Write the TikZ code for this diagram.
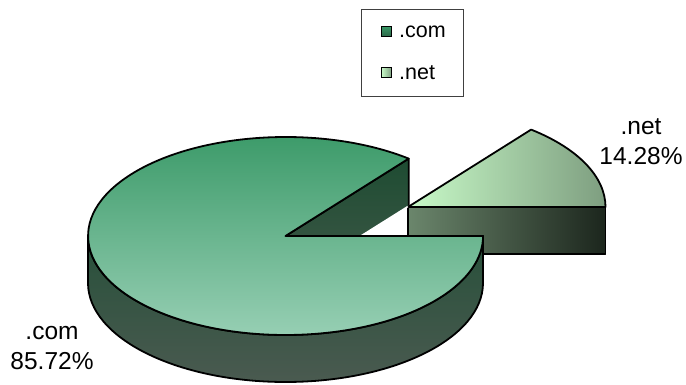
\documentclass[tikz,border=0pt]{standalone}
\usepackage{fontspec}
\setmainfont{Liberation Sans}
\usetikzlibrary{calc}

\definecolor{comtop}{HTML}{389866}
\definecolor{combot}{HTML}{9CD2B8}
\definecolor{comsidetop}{HTML}{27503A}
\definecolor{comsidebot}{HTML}{4A5A50}
\definecolor{comcuttop}{HTML}{1E4C32}
\definecolor{comcutbot}{HTML}{3F5848}
\definecolor{netleft}{HTML}{C8FAC8}
\definecolor{netright}{HTML}{7E9E80}
\definecolor{netfrontleft}{HTML}{6B866C}
\definecolor{netfrontright}{HTML}{1C261D}

\tikzset{
  pieline/.style={draw=black, line width=1.8pt, line join=round},
  pielabel/.style={font=\fontsize{24.5}{30}\selectfont, align=center, inner sep=0pt},
  legtext/.style={font=\fontsize{21.5}{25}\selectfont, anchor=west, inner sep=0pt},
  legmark/.style={draw=black, line width=1.2pt, minimum size=10pt, inner sep=0pt}
}

\begin{document}
\begin{tikzpicture}[x=1pt, y=1pt]
      \useasboundingbox (0,0) rectangle (686,384);
      % exploded slice (.net)
      \coordinate (s) at (408,177);
      \fill[left color=netfrontleft, right color=netfrontright]
        (s) rectangle ++(197.5,-47);
      \draw[pieline] (s) rectangle ++(197.5,-47);
      \fill[left color=netleft, right color=netright]
        (s) -- ++(197.5,0) arc[start angle=0, end angle=51.43, x radius=197.5, y radius=99] -- cycle;
      \draw[pieline]
        (s) -- ++(197.5,0) arc[start angle=0, end angle=51.43, x radius=197.5, y radius=99] -- cycle;
      % main pie (.com)
      \coordinate (c) at (285.5,148);
      \coordinate (p) at (408.7,225.4);
      \fill[top color=comcuttop, bottom color=comcutbot]
        (c) -- (p) -- ++(0,-47) -- ($(c)+(0,-47)$) -- cycle;
      \draw[pieline] (c) -- (p) -- ++(0,-47);
      \draw[white, line width=1.5pt] ($(p)+(-1,-48)$) -- ($(c)+(-1,-48)$);
      \draw[white, line width=1.5pt]
        (89.5,99.5) arc[start angle=180, end angle=360, x radius=197.5, y radius=99];
      \fill[top color=comsidetop, bottom color=comsidebot]
        (88,148) arc[start angle=180, end angle=360, x radius=197.5, y radius=99]
        -- ++(0,-47) arc[start angle=360, end angle=180, x radius=197.5, y radius=99] -- cycle;
      \draw[pieline]
        (88,148) arc[start angle=180, end angle=360, x radius=197.5, y radius=99]
        -- ++(0,-47) arc[start angle=360, end angle=180, x radius=197.5, y radius=99] -- cycle;
      \fill[top color=comtop, bottom color=combot]
        (c) -- (p) arc[start angle=51.43, end angle=360, x radius=197.5, y radius=99] -- cycle;
      \draw[pieline]
        (c) -- (p) arc[start angle=51.43, end angle=360, x radius=197.5, y radius=99] -- cycle;
      % labels
      \node[pielabel] (netlabel) at (641,242) {.net\\14.28\%};
      \node[pielabel] (comlabel) at (52,36) {.com\\85.72\%};
      % legend
      \node[draw=black!75, line width=0.8pt, minimum width=102pt, minimum height=87pt] (legend) at (412,331.5) {};
      \node[legmark, top color=comtop, bottom color=comsidetop!70!comtop] (commark) at (386.5,352.5) {};
      \node[legmark, left color=netleft, right color=netright] (netmark) at (386.5,311.5) {};
      \node[legtext] (comtext) at (399,352.5) {.com};
      \node[legtext] (nettext) at (399,311.5) {.net};
    \end{tikzpicture}
\end{document}
